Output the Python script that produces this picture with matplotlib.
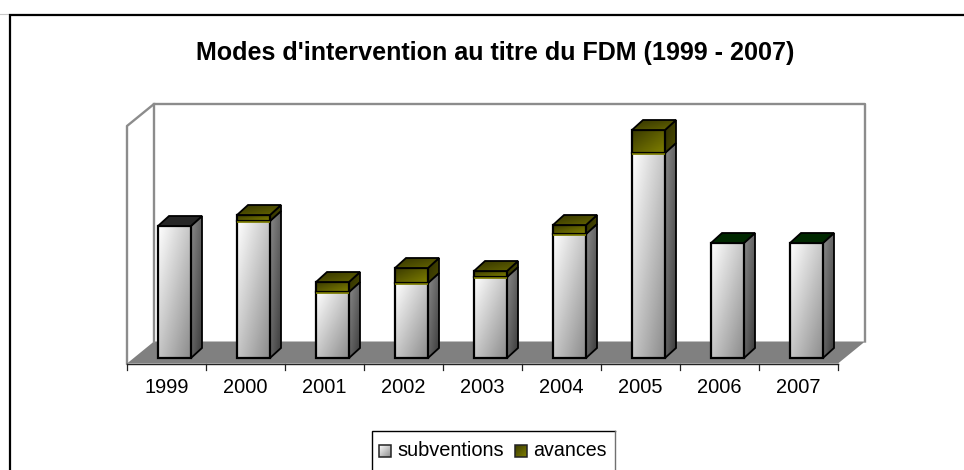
import numpy as np
import matplotlib
matplotlib.use("Agg")
import matplotlib.pyplot as plt
from matplotlib.patches import Polygon
from matplotlib.colors import LinearSegmentedColormap

years = ["1999", "2000", "2001", "2002", "2003", "2004", "2005", "2006", "2007"]
subventions = [132, 137, 66, 75, 81, 124, 205, 115, 115]
avances = [0, 6, 10, 15, 6, 9, 23, 0, 0]
title = "Modes d'intervention au titre du FDM (1999 - 2007)"

plt.rcParams["font.family"] = ["Liberation Sans", "DejaVu Sans"]
W, H = 964, 470
fig = plt.figure(figsize=(W / 100, H / 100), dpi=100, facecolor="white")
ax = fig.add_axes([0, 0, 1, 1])
PX = 79.0
x0 = 166.5
y0 = 358.0
ax.set_xlim(-x0 / PX, (W - x0) / PX)
ax.set_ylim(y0 - H, y0)
ax.axis("off")

front_floor = -5.5
dx = 27 / PX
dy = 22.0
bar_off = 8 / PX
bw = 33 / PX
ddx = 11 / PX
ddy = 10.0

cm_white = LinearSegmentedColormap.from_list("w", ["#ffffff", "#8c8c8c"])
cm_side = LinearSegmentedColormap.from_list("s", ["#8a8a8a", "#3c3c3c"])
cm_olive = LinearSegmentedColormap.from_list("o", ["#3a3a00", "#808000"])
cm_olive_s = LinearSegmentedColormap.from_list("os", ["#2e2e00", "#4c4c00"])
cm_olive_t = LinearSegmentedColormap.from_list("ot", ["#333300", "#666600"])
g = np.linspace(0, 1, 64)
gx, gy = np.meshgrid(g, g)
diag = (gx + gy) / 2


def shade(pts, cmap, z):
    p = Polygon(pts, closed=True, transform=ax.transData, facecolor="none", edgecolor="none")
    ax.add_patch(p)
    xs = [a for a, _ in pts]
    ys = [b for _, b in pts]
    im = ax.imshow(diag, cmap=cmap, extent=(min(xs), max(xs), min(ys), max(ys)),
                   origin="upper", aspect="auto", zorder=z, vmin=0, vmax=1)
    im.set_clip_path(p)


def box(x, b, t, cmap_f, cmap_s, edge, z):
    l, r = x - bw / 2, x + bw / 2
    shade([(r, b), (r + ddx, b + ddy), (r + ddx, t + ddy), (r, t)], cmap_s, z)
    ax.add_patch(Polygon([(r, b), (r + ddx, b + ddy), (r + ddx, t + ddy), (r, t)],
                         closed=True, fill=False, ec="black", lw=1.3, zorder=z + 0.1))
    shade([(l, b), (r, b), (r, t), (l, t)], cmap_f, z + 0.2)
    ax.add_patch(Polygon([(l, b), (r, b), (r, t), (l, t)], closed=True, fill=False,
                         ec="black", lw=1.6, zorder=z + 0.3))
    if edge:
        ax.plot([l, r], [b - 0.8, b - 0.8], color=edge, lw=1.2, zorder=z + 0.4,
                solid_capstyle="butt")


def top_face(x, t, color=None):
    l, r = x - bw / 2, x + bw / 2
    pts = [(l, t), (r, t), (r + ddx, t + ddy), (l + ddx, t + ddy)]
    if color:
        ax.add_patch(Polygon(pts, closed=True, fc=color, ec="black", lw=1.3, zorder=5))
    else:
        shade(pts, cm_olive_t, 5)
        ax.add_patch(Polygon(pts, closed=True, fill=False, ec="black", lw=1.3, zorder=5.1))


# walls and floor
left = -0.5
right = 8.5
gray = "#8c8c8c"
ax.add_patch(Polygon([(left, front_floor), (right, front_floor),
                      (right + dx, front_floor + dy), (left + dx, front_floor + dy)],
                     closed=True, fc="#808080", ec="none", zorder=1))
top_v = 254.0
ax.plot([left, left, left + dx, right + dx, right + dx],
        [front_floor, top_v - dy, top_v, top_v, front_floor + dy],
        color=gray, lw=1.7, zorder=2)
ax.plot([left + dx, left + dx], [front_floor + dy, top_v], color=gray, lw=1.7, zorder=2)
ax.plot([left, right], [front_floor, front_floor], color="#222222", lw=1.0, zorder=3)
for i in range(10):
    ax.plot([left + i, left + i], [front_floor, front_floor - 6], color="#222222", lw=0.9, zorder=3)

solid_tops = {7: "#002800", 8: "#002800", 0: "#262626"}
for i, (s, a) in enumerate(zip(subventions, avances)):
    x = i + bar_off
    box(x, 0, s, cm_white, cm_side, None, 3)
    if a > 0:
        box(x, s, s + a, cm_olive, cm_olive_s, "#808000", 4)
        top_face(x, s + a)
    else:
        top_face(x, s, solid_tops.get(i))
    ax.text(i, -29.5, years[i], ha="center", va="center", fontsize=14.4, color="black", zorder=6)

ax.text((495 - x0) / PX, y0 - 53, title, ha="center", va="center", fontsize=18.1,
        fontweight="bold", color="black")

# outer frame: top and left only, running off the picture; legend box open at the bottom
trans = ax.transAxes
ax.plot([0, 10 / W, 1], [1 - 13.5 / H] * 3, color="#c8c8c8", lw=0.8, transform=trans, zorder=7, clip_on=False)
ax.plot([10 / W, 10 / W, 1], [0, 1 - 15 / H, 1 - 15 / H], color="black", lw=1.6,
        transform=trans, zorder=8, solid_joinstyle="miter")
ax.plot([371.5 / W, 371.5 / W, 615 / W], [0, 1 - 431 / H, 1 - 431 / H], color="black", lw=1.0,
        transform=trans, zorder=8, solid_joinstyle="miter")
ax.plot([615 / W, 615 / W], [0, 1 - 431 / H], color="#707070", lw=1.0, transform=trans, zorder=8)


def legend_swatch(px, cmap, ec):
    xa, xb = (px - x0) / PX, (px + 12 - x0) / PX
    ya, yb = y0 - 457, y0 - 445
    shade([(xa, ya), (xb, ya), (xb, yb), (xa, yb)], cmap, 9)
    ax.add_patch(Polygon([(xa, ya), (xb, ya), (xb, yb), (xa, yb)], closed=True, fill=False,
                         ec=ec, lw=1.1, zorder=9.1))


legend_swatch(379, cm_white, "#222222")
legend_swatch(515, cm_olive, "#222222")
ax.text((397 - x0) / PX, y0 - 450, "subventions", ha="left", va="center", fontsize=14.4, zorder=9)
ax.text((533 - x0) / PX, y0 - 450, "avances", ha="left", va="center", fontsize=14.1, zorder=9)

ax.set_xlim(-x0 / PX, (W - x0) / PX)
ax.set_ylim(y0 - H, y0)
fig.savefig("out.png", dpi=100, facecolor="white")
